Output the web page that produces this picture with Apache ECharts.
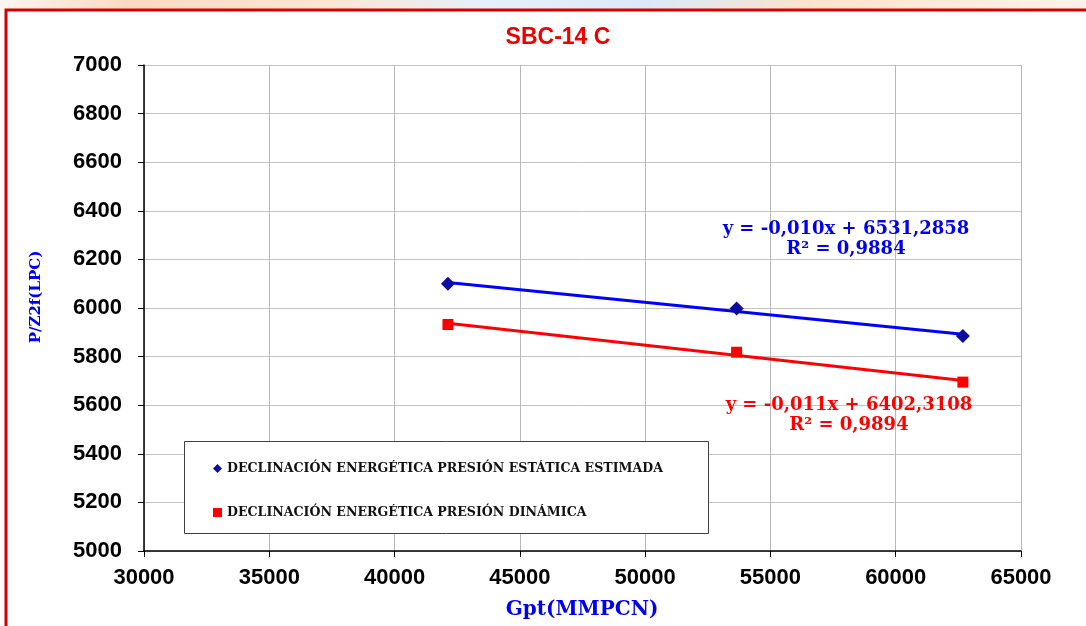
<!DOCTYPE html>
<html>
<head>
<meta charset="utf-8">
<style>
  html, body { margin: 0; padding: 0; background: #ffffff; }
  #chart { width: 1086px; height: 626px; }
</style>
<script src="https://cdn.jsdelivr.net/npm/echarts@6/dist/echarts.min.js"></script>
</head>
<body>
<div id="chart"></div>
<script>
// Cumulative gas produced (MMPCN) at each measurement
const gpt = [42130, 53650, 62680];
// P/Z2f (LPC) for each pressure source
const staticPZ = [6100, 5998, 5885];
const dynamicPZ = [5932, 5818, 5695];

const seriesNames = [
  'DECLINACIÓN ENERGÉTICA PRESIÓN ESTÁTICA ESTIMADA',
  'DECLINACIÓN ENERGÉTICA PRESIÓN DINÁMICA'
];
const staticEq = ['y = -0,010x + 6531,2858', 'R² = 0,9884'];
const dynamicEq = ['y = -0,011x + 6402,3108', 'R² = 0,9894'];
const xTitle = 'Gpt(MMPCN)';
const yTitle = 'P/Z2f(LPC)';

// Least-squares linear trend through the measured points
function trend(xs, ys) {
  const n = xs.length;
  const mx = xs.reduce((a, b) => a + b, 0) / n;
  const my = ys.reduce((a, b) => a + b, 0) / n;
  let sxy = 0, sxx = 0;
  for (let i = 0; i < n; i++) {
    sxy += (xs[i] - mx) * (ys[i] - my);
    sxx += (xs[i] - mx) * (xs[i] - mx);
  }
  const m = sxy / sxx, b = my - m * mx;
  const x0 = Math.min(...xs), x1 = Math.max(...xs);
  return [[x0, m * x0 + b], [x1, m * x1 + b]];
}

const pts = (ys) => gpt.map((x, i) => [x, ys[i]]);

const tickFont = {
  fontFamily: 'Liberation Sans, Arial, sans-serif', fontWeight: 'bold', fontSize: 22, color: '#000000',
  formatter: (v) => String(v)
};
const serifBold = 'DejaVu Serif, serif';

const chart = echarts.init(document.getElementById('chart'));
chart.setOption({
  animation: false,
  backgroundColor: '#ffffff',
  title: {
    text: 'SBC-14 C',
    left: 553, top: 21, textAlign: 'center',
    textStyle: { color: '#ee0000', fontFamily: 'Liberation Sans, Arial, sans-serif', fontWeight: 'bold', fontSize: 23 }
  },
  grid: { left: 144, right: 65, top: 65, bottom: 75 },
  xAxis: {
    type: 'value', min: 30000, max: 65000, interval: 5000,
    axisLine: { show: true, lineStyle: { color: '#000000', width: 1.5 } },
    axisTick: { show: true, length: 6, lineStyle: { color: '#000000' } },
    axisLabel: Object.assign({ margin: 16 }, tickFont),
    splitLine: { show: true, lineStyle: { color: '#b8b8b8', width: 1 } }
  },
  yAxis: {
    type: 'value', min: 5000, max: 7000, interval: 200,
    axisLine: { show: true, lineStyle: { color: '#000000', width: 1.5 } },
    axisTick: { show: true, length: 6, lineStyle: { color: '#000000' } },
    axisLabel: Object.assign({ margin: 22 }, tickFont),
    splitLine: { show: true, lineStyle: { color: '#c4c4c4', width: 1 } }
  },
  legend: {
    orient: 'vertical', left: 208, top: 457, itemGap: 31,
    itemWidth: 9, itemHeight: 9, z: 10,
    textStyle: { fontFamily: serifBold, fontWeight: 'bold', fontSize: 12.6, color: '#111111' },
    data: [
      { name: seriesNames[0], icon: 'diamond' },
      { name: seriesNames[1], icon: 'rect' }
    ]
  },
  series: [
    {
      name: 'trend-static', type: 'line', data: trend(gpt, staticPZ),
      symbol: 'none', lineStyle: { color: '#0000ff', width: 3 }, z: 2, silent: true
    },
    {
      name: 'trend-dynamic', type: 'line', data: trend(gpt, dynamicPZ),
      symbol: 'none', lineStyle: { color: '#ff0000', width: 3 }, z: 2, silent: true
    },
    {
      name: seriesNames[0], type: 'scatter', data: pts(staticPZ),
      symbol: 'diamond', symbolSize: 14,
      itemStyle: { color: '#0c0ca0', opacity: 1 }, z: 3
    },
    {
      name: seriesNames[1], type: 'scatter', data: pts(dynamicPZ),
      symbol: 'rect', symbolSize: 11,
      itemStyle: { color: '#ff0000', opacity: 1 }, z: 3
    }
  ],
  graphic: [
    // soft banner strip above the frame
    {
      type: 'rect', left: 0, top: 0, shape: { width: 1086, height: 10 }, silent: true,
      style: {
        fill: new echarts.graphic.LinearGradient(0, 0, 1, 0, [
          { offset: 0.0, color: '#fdf6f0' },
          { offset: 0.12, color: '#f9d9bf' },
          { offset: 0.3, color: '#fbe6d2' },
          { offset: 0.45, color: '#e6f0fa' },
          { offset: 0.6, color: '#dbe9f7' },
          { offset: 0.75, color: '#fbe3cc' },
          { offset: 1.0, color: '#fdf3ea' }
        ])
      }
    },
    // red frame around the chart
    {
      type: 'polyline', silent: true,
      shape: { points: [[6, 640], [6, 10], [1100, 10]] },
      style: { stroke: '#d40000', lineWidth: 3, fill: null }
    },
    // legend box
    {
      type: 'rect', left: 184, top: 441, z: 5, silent: true,
      shape: { width: 524, height: 92 },
      style: { fill: '#ffffff', stroke: '#404040', lineWidth: 1 }
    },
    // axis titles
    {
      type: 'text', x: 582, y: 610, z: 6, silent: true,
      style: {
        text: xTitle, textAlign: 'center', textVerticalAlign: 'middle',
        fill: '#0000ee', font: 'bold 20px "DejaVu Serif", serif'
      }
    },
    {
      type: 'text', x: 36, y: 297, rotation: Math.PI / 2, z: 6, silent: true,
      style: {
        text: yTitle, textAlign: 'center', textVerticalAlign: 'middle',
        fill: '#0000ee', font: 'bold 15px "DejaVu Serif", serif'
      }
    },
    // trend equations
    {
      type: 'text', x: 846, y: 219, z: 6, silent: true,
      style: {
        text: staticEq.join('\n'), textAlign: 'center',
        fill: '#0000ee', font: 'bold 18px "DejaVu Serif", serif', lineHeight: 20
      }
    },
    {
      type: 'text', x: 849, y: 395, z: 6, silent: true,
      style: {
        text: dynamicEq.join('\n'), textAlign: 'center',
        fill: '#ff0000', font: 'bold 18px "DejaVu Serif", serif', lineHeight: 20
      }
    }
  ]
});
</script>
</body>
</html>
